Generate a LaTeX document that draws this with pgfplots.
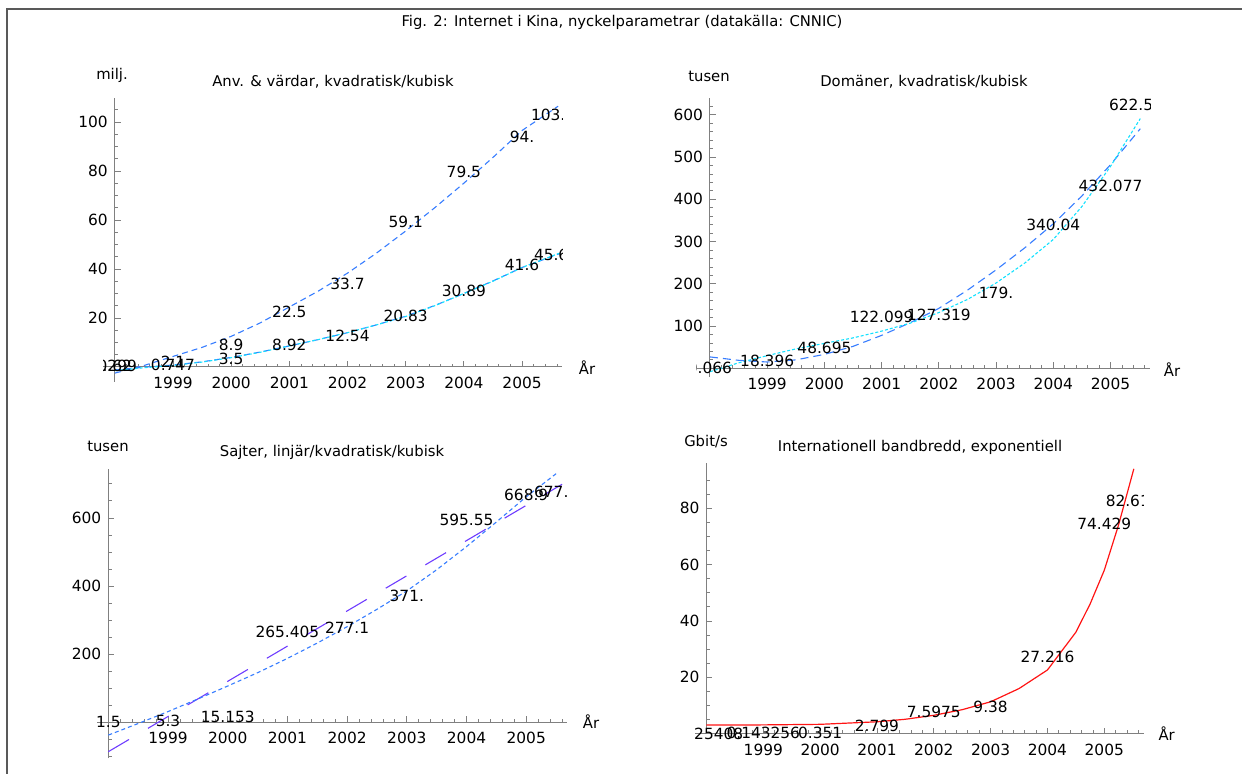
\documentclass[border=0pt]{standalone}
\usepackage{fontspec}
\setmainfont{DejaVu Sans}
\usepackage{pgfplots}
\pgfplotsset{compat=1.18}

\definecolor{mblue}{RGB}{55,125,255}
\definecolor{mcyan}{RGB}{20,225,255}
\definecolor{mpurple}{RGB}{110,60,255}
\definecolor{mred}{RGB}{255,20,20}
\definecolor{axgray}{gray}{0.5}

\newcommand\lab{\fontsize{7.7}{9}\selectfont}
\newcommand\ttl{\fontsize{7.4}{9}\selectfont}

\pgfplotsset{panel/.style={
    scale only axis, anchor=south west,
    axis lines=middle, axis line style={-, draw=axgray, line width=0.5pt},
    tick style={axgray, line width=0.4pt},
    major tick length=3pt, minor tick length=1.6pt, tick align=inside,
    xtick={1,...,7}, xticklabels={1999,2000,2001,2002,2003,2004,2005},
    minor xtick={0.2,0.4,...,7.6},
    ticklabel style={font=\lab, text=black},
    xticklabel style={yshift=-1.5pt},
    /pgf/number format/assume math mode=true,
    clip=true,
    nodes={font=\lab}},
  fitA/.style={mblue, line width=0.55pt, dash pattern=on 3pt off 2pt},
  fitB/.style={mcyan, line width=0.55pt, dash pattern=on 1.5pt off 1pt}}

\begin{document}
\begin{tikzpicture}
\path[use as bounding box] (0,0) rectangle (621pt,387pt);
\draw[gray!70!black, line width=0.6pt] (3.5pt,0) -- (3.5pt,382.5pt) -- (621pt,382.5pt);
\node[font=\ttl] at (311pt,376pt) {Fig. 2: Internet i Kina, nyckelparametrar (datakälla: CNNIC)};

% --- users & hosts
\begin{axis}[panel, at={(51.6pt,196.15pt)}, width=229.5pt, height=141.9pt,
    xmin=-0.2, xmax=7.69, ymin=-6, ymax=109.8,
    ytick={20,40,60,80,100}, minor ytick={5,10,...,105}]
\addplot[fitA] coordinates {(0,-2.5) (0.5,0.6) (1,4.3) (1.5,8) (2,12.5) (2.5,18) (3,24.5)
  (3.5,31) (4,38.3) (4.5,46.5) (5,55.5) (5.5,65) (6,75) (6.5,85.5) (7,96.5) (7.62,106.4)};
\addplot[fitA] coordinates {(0,-1.2) (0.5,-0.1) (1,0.8) (1.5,2.1) (2,3.9) (2.5,6.1) (3,8.6)
  (3.5,11.2) (4,14) (4.5,17.2) (5,20.7) (5.5,25.1) (6,30) (6.5,35.1) (7,40.6) (7.65,46.3)};
\addplot[fitB] coordinates {(0,-1.5) (0.5,-0.3) (1,0.6) (1.5,2) (2,3.8) (2.5,6) (3,8.6)
  (3.5,11.2) (4,14) (4.5,17.2) (5,20.6) (5.5,25) (6,30) (6.5,35) (7,40.6) (7.65,46.5)};
\node at (axis cs:0,0.62) {0.62};
\node at (axis cs:0,0.299) {0.299};
\node at (axis cs:1,2.1) {2.1};
\node at (axis cs:2,8.9) {8.9};
\node at (axis cs:3,22.5) {22.5};
\node at (axis cs:4,33.7) {33.7};
\node at (axis cs:5,59.1) {59.1};
\node at (axis cs:6,79.5) {79.5};
\node at (axis cs:7,94) {94.};
\node at (axis cs:7.45,103) {103.};
\node at (axis cs:1,0.747) {0.747};
\node at (axis cs:2,3.5) {3.5};
\node at (axis cs:3,8.92) {8.92};
\node at (axis cs:4,12.54) {12.54};
\node at (axis cs:5,20.83) {20.83};
\node at (axis cs:6,30.89) {30.89};
\node at (axis cs:7,41.6) {41.6};
\node at (axis cs:7.5,45.6) {45.6};
\end{axis}
\node[font=\ttl] at (56pt,349.5pt) {milj.};
\node[font=\ttl] at (166.5pt,346pt) {Anv. \& värdar, kvadratisk/kubisk};
\node[font=\ttl] at (293.5pt,203pt) {År};

% --- domains
\begin{axis}[panel, at={(348.4pt,198.6pt)}, width=226.6pt, height=139.2pt,
    xmin=-0.23, xmax=7.69, ymin=-20, ymax=638.8,
    ytick={100,200,...,600}, minor ytick={20,40,...,620}]
\addplot[mblue, line width=0.55pt, dash pattern=on 4pt off 2.5pt] coordinates {(0,27) (0.5,19) (1,15)
  (1.5,20) (2,33) (2.5,52) (3,78) (3.5,108) (4,142) (4.5,185) (5,233) (5.5,285) (6,342)
  (6.5,408) (7,482) (7.52,567)};
\addplot[fitB] coordinates {(0,-8) (0.5,13) (1,30) (1.5,46) (2,59) (2.5,72) (3,88) (3.5,107)
  (4,132) (4.5,163) (5,202) (5.5,249) (6,305) (6.5,383) (7,478) (7.52,591)};
\node at (axis cs:0,0.066) {0.066};
\node at (axis cs:1,18.396) {18.396};
\node at (axis cs:2,48.695) {48.695};
\node at (axis cs:3,122.099) {122.099};
\node at (axis cs:4,127.319) {127.319};
\node at (axis cs:5,179) {179.};
\node at (axis cs:6,340.04) {340.04};
\node at (axis cs:7,432.077) {432.077};
\node at (axis cs:7.36,622.5) {622.5};
\end{axis}
\node[font=\ttl] at (354.5pt,349pt) {tusen};
\node[font=\ttl] at (462pt,346pt) {Domäner, kvadratisk/kubisk};
\node[font=\ttl] at (586pt,202pt) {År};

% --- sites
\begin{axis}[panel, at={(48.5pt,7.85pt)}, width=234.9pt, height=144.9pt,
    xmin=-0.19, xmax=7.68, ymin=-105, ymax=745,
    ytick={200,400,600}, minor ytick={-100,-50,...,700}]
\addplot[mpurple, line width=0.55pt, dash pattern=on 12pt off 11pt] coordinates {(0,-85.6) (7.6,698.7)};
\addplot[fitA, dash pattern=on 2pt off 1.5pt] coordinates {(0,-37) (0.5,-3) (1,32) (1.5,69) (2,107)
  (2.5,146) (3,188) (3.5,233) (4,281) (4.5,332) (5,386) (5.5,448) (6,516) (6.5,588) (7,662) (7.51,731)};
\node at (axis cs:0,1.5) {1.5};
\node at (axis cs:1,5.3) {5.3};
\node at (axis cs:2,15.153) {15.153};
\node at (axis cs:3,265.405) {265.405};
\node at (axis cs:4,277.1) {277.1};
\node at (axis cs:5,371) {371.};
\node at (axis cs:6,595.55) {595.55};
\node at (axis cs:7,668.9) {668.9};
\node at (axis cs:7.42,677) {677.};
\end{axis}
\node[font=\ttl] at (54pt,164pt) {tusen};
\node[font=\ttl] at (166pt,161pt) {Sajter, linjär/kvadratisk/kubisk};
\node[font=\ttl] at (295.5pt,26pt) {År};

% --- bandwidth
\begin{axis}[panel, at={(347.55pt,14.55pt)}, width=224.2pt, height=140.7pt,
    xmin=-0.2, xmax=7.69, ymin=-4, ymax=95.9,
    y axis line style={shorten <=5.6pt},
    ytick={20,40,60,80}, minor ytick={5,10,...,90}]
\addplot[mred, line width=0.6pt] coordinates {(0,3.05) (1,3.1) (2,3.3) (3,4.2) (3.5,5.1) (4,6.5)
  (4.5,8.5) (5,11.3) (5.5,16) (6,22.6) (6.5,36) (6.75,46) (7,58) (7.25,74) (7.52,94)};
\node at (axis cs:0,0.025408) {0.025408};
\node at (axis cs:1,0.143256) {0.143256};
\node at (axis cs:2,0.351) {0.351};
\node at (axis cs:3,2.799) {2.799};
\node at (axis cs:4,7.5975) {7.5975};
\node at (axis cs:5,9.38) {9.38};
\node at (axis cs:6,27.216) {27.216};
\node at (axis cs:7,74.429) {74.429};
\node at (axis cs:7.5,82.617) {82.617};
\end{axis}
\node[font=\ttl] at (353pt,166pt) {Gbit/s};
\node[font=\ttl] at (460pt,163.5pt) {Internationell bandbredd, exponentiell};
\node[font=\ttl] at (583.3pt,20pt) {År};
\end{tikzpicture}
\end{document}
